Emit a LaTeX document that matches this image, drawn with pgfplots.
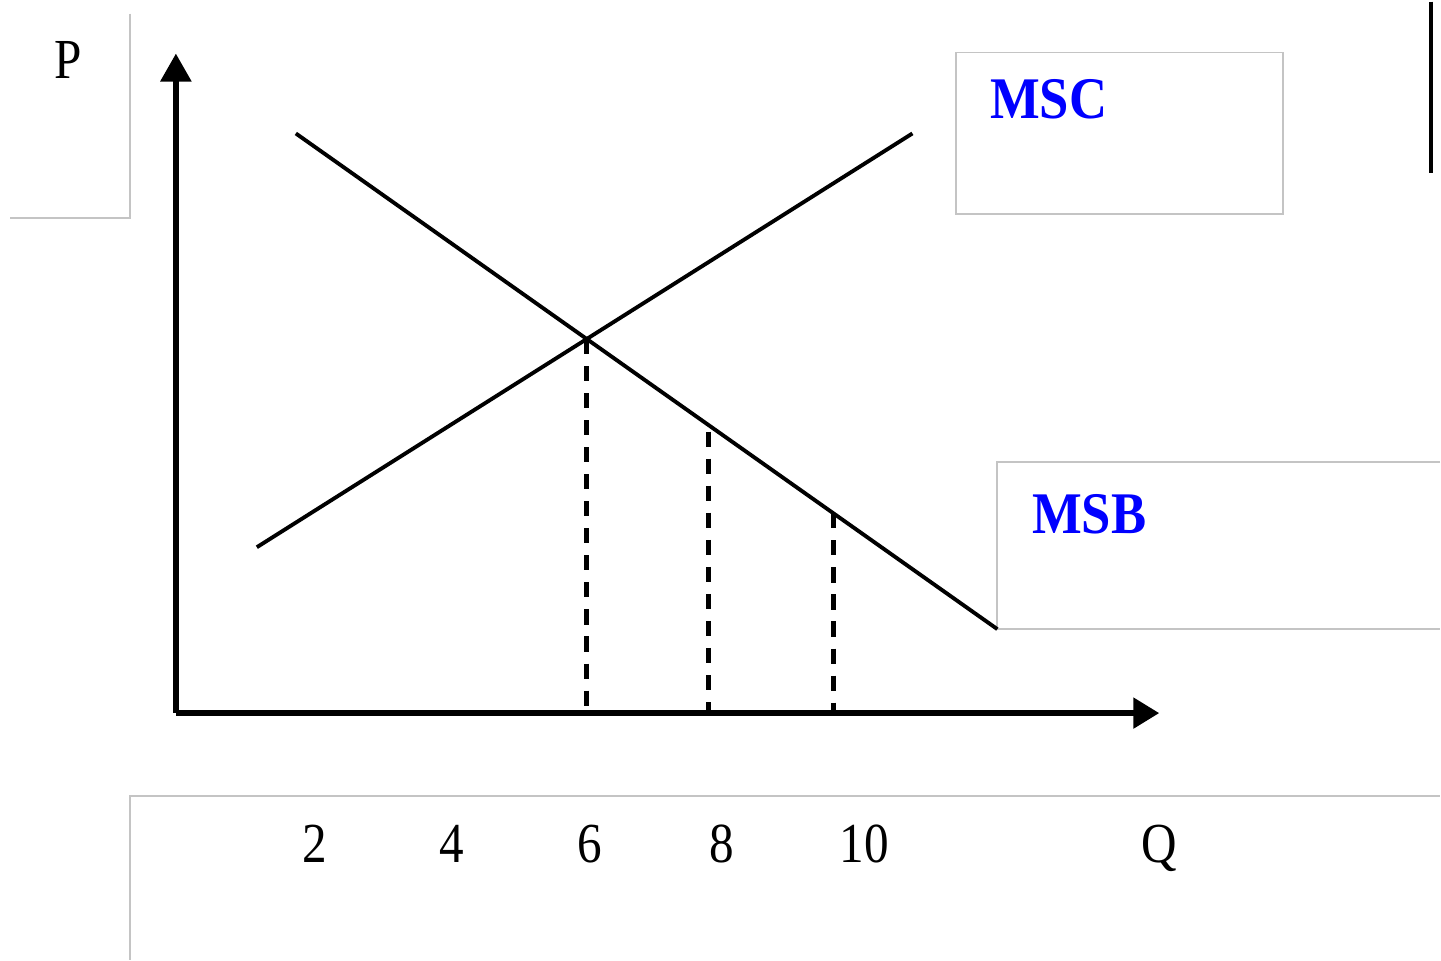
\documentclass[border=0pt]{standalone}
\usepackage{pgfplots}
\pgfplotsset{compat=1.18}
\usepackage{graphicx}
\usepackage{fontspec}
\setmainfont{Liberation Serif}
\usetikzlibrary{arrows.meta}

\definecolor{boxgray}{HTML}{C4C4C4}
\definecolor{lblblue}{HTML}{0000FF}

\newcommand{\lbl}[1]{\scalebox{1}[1.15]{\fontsize{14}{16}\selectfont #1}}
\newcommand{\curve}[1]{\scalebox{1}[1.12]{\fontsize{15}{17}\selectfont\bfseries\color{lblblue} #1}}

\begin{document}
\begin{tikzpicture}
\begin{axis}[
  width=14.41cm, height=9.59cm,
  scale only axis,
  hide axis,
  clip=false,
  xmin=-2.562, xmax=18.413,
  ymin=-3.595, ymax=10.364,
]
% page extent
\addplot[draw=none] coordinates {(-2.562,-3.595) (18.413,10.364)};

% light frames of the text boxes
\addplot[boxgray, line width=0.55pt] coordinates {(-0.670,10.189) (-0.670,7.205) (-2.416,7.205)};
\addplot[boxgray, line width=0.55pt] coordinates {(11.368,9.622) (16.128,9.622) (16.128,7.263) (11.368,7.263) (11.368,9.622)};
\addplot[boxgray, line width=0.55pt] coordinates {(18.413,3.654) (11.965,3.654) (11.965,1.223) (18.413,1.223)};
\addplot[boxgray, line width=0.55pt] coordinates {(-0.670,-3.595) (-0.670,-1.208) (18.413,-1.208)};
\addplot[black, line width=0.9pt] coordinates {(18.282,10.364) (18.282,7.860)};

% axes
\addplot[black, line width=1.6pt, -{Triangle[length=2.8mm, width=3mm]}] coordinates {(0,0) (0,9.607)};
\addplot[black, line width=1.6pt, -{Triangle[length=2.6mm, width=3mm]}] coordinates {(0,0) (14.323,0)};

% MSB and MSC
\addplot[black, line width=1.1pt] coordinates {(1.747,8.443) (11.965,1.223)};
\addplot[black, line width=1.1pt] coordinates {(1.179,2.416) (10.728,8.443)};

% dashed drop lines
\addplot[black, line width=1.5pt, dash pattern=on 4.3pt off 3.4pt] coordinates {(5.984,5.449) (5.984,0)};
\addplot[black, line width=1.5pt, dash pattern=on 4.3pt off 3.4pt] coordinates {(7.758,4.10) (7.758,0)};
\addplot[black, line width=1.5pt, dash pattern=on 4.3pt off 3.4pt] coordinates {(9.578,2.91) (9.578,0)};

% labels
\node[anchor=base, inner sep=0pt] at (axis cs:-1.572,9.243) {\lbl{P}};
\node[anchor=base west, inner sep=0pt] at (axis cs:11.849,8.661) {\curve{MSC}};
\node[anchor=base west, inner sep=0pt] at (axis cs:12.460,2.620) {\curve{MSB}};
\node[anchor=base, inner sep=0pt] at (axis cs:2.023,-2.183) {\lbl{2}};
\node[anchor=base, inner sep=0pt] at (axis cs:4.020,-2.183) {\lbl{4}};
\node[anchor=base, inner sep=0pt] at (axis cs:6.026,-2.183) {\lbl{6}};
\node[anchor=base, inner sep=0pt] at (axis cs:7.948,-2.183) {\lbl{8}};
\node[anchor=base, inner sep=0pt] at (axis cs:10.029,-2.183) {\lbl{10}};
\node[anchor=base, inner sep=0pt] at (axis cs:14.323,-2.183) {\lbl{Q}};
\end{axis}
\end{tikzpicture}
\end{document}
